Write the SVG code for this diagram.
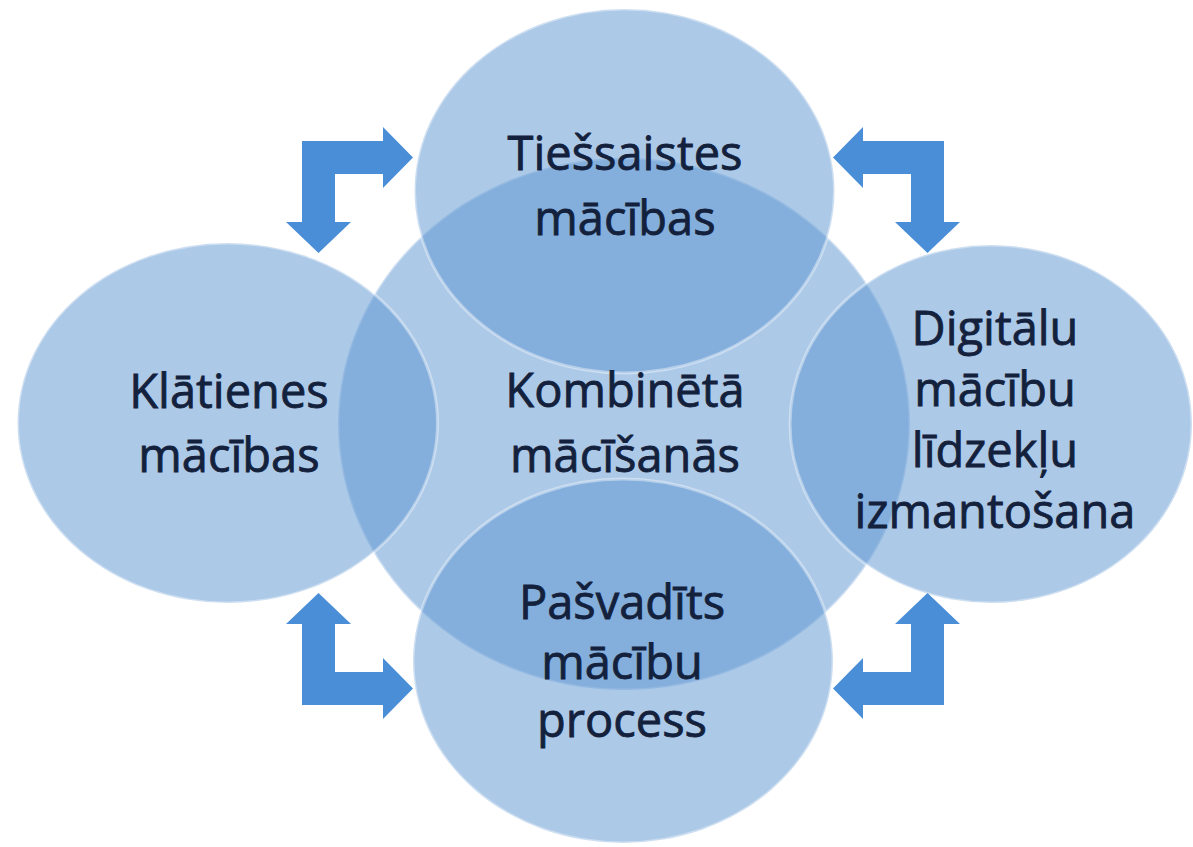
<svg xmlns="http://www.w3.org/2000/svg" xmlns:xlink="http://www.w3.org/1999/xlink" width="1193" height="847" viewBox="0 0 1193 847">
<style>
.c{fill:#5f97d2;fill-opacity:0.52;stroke:#ffffff;stroke-opacity:0.4;stroke-width:3}
.t{font-family:"Open Sans","Noto Sans","Liberation Sans",sans-serif;font-size:47px;font-weight:400;fill:#13213c;stroke:#13213c;stroke-width:0.8;text-anchor:middle}
.a{fill:#4a8ed8}
</style>
<defs>
<path id="bent" d="M302,141 L383,141 L383,127 L413,157.5 L383,188 L383,174 L335,174 L335,222 L351,222 L318.5,253 L286,222 L302,222 Z"/>
</defs>
<rect width="1193" height="847" fill="#ffffff"/>
<g id="center">
<ellipse class="c" cx="624" cy="424" rx="286" ry="266"/>
</g>
<g id="top">
<ellipse class="c" cx="624.5" cy="191" rx="210" ry="182"/>
</g>
<g id="left">
<ellipse class="c" cx="227.5" cy="423" rx="210" ry="180"/>
</g>
<g id="right">
<ellipse class="c" cx="991" cy="424" rx="201" ry="179"/>
</g>
<g id="bottom">
<ellipse class="c" cx="623" cy="661" rx="210" ry="182"/>
</g>
<g id="connectors">
<use xlink:href="#bent" href="#bent" class="a"/>
<use xlink:href="#bent" href="#bent" class="a" transform="translate(1246,0) scale(-1,1)"/>
<use xlink:href="#bent" href="#bent" class="a" transform="translate(0,846) scale(1,-1)"/>
<use xlink:href="#bent" href="#bent" class="a" transform="translate(1246,846) scale(-1,-1)"/>
</g>
<g id="labels">
<text class="t" x="625" y="170">Tiešsaistes</text>
<text class="t" x="625" y="235">mācības</text>
<text class="t" x="625" y="407">Kombinētā</text>
<text class="t" x="625" y="472">mācīšanās</text>
<text class="t" x="229" y="408">Klātienes</text>
<text class="t" x="229" y="472">mācības</text>
<text class="t" x="995" y="345">Digitālu</text>
<text class="t" x="995" y="406">mācību</text>
<text class="t" x="995" y="467">līdzekļu</text>
<text class="t" x="995" y="528">izmantošana</text>
<text class="t" x="622" y="619">Pašvadīts</text>
<text class="t" x="622" y="679">mācību</text>
<text class="t" x="622" y="737">process</text>
</g>
</svg>
